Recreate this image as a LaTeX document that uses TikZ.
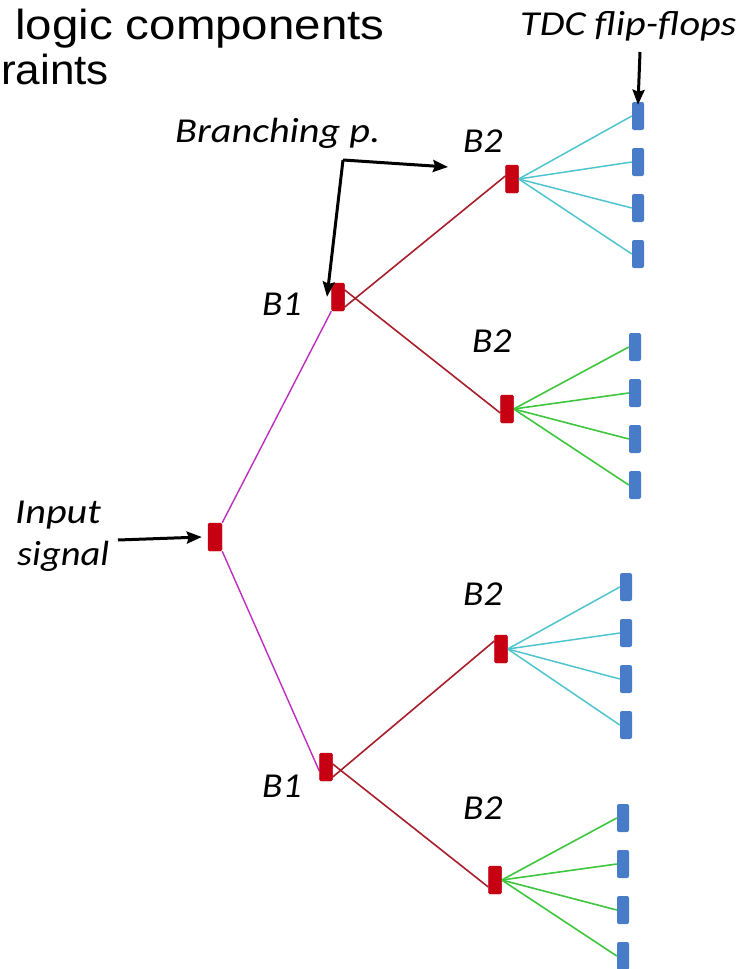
\documentclass[tikz,border=0pt]{standalone}
\usepackage{fontspec}
\setmainfont{Liberation Sans}
\newfontfamily\lblfont{Carlito}
\usetikzlibrary{arrows.meta}
\definecolor{branchred}{RGB}{198,0,18}
\definecolor{wirered}{RGB}{168,30,42}
\definecolor{wiremag}{RGB}{190,45,190}
\definecolor{wirecyan}{RGB}{78,196,206}
\definecolor{wiregreen}{RGB}{62,198,62}
\definecolor{ffblue}{RGB}{72,124,200}
\tikzset{
  bpoint/.style={rectangle, fill=branchred, minimum width=13pt, minimum height=28pt, inner sep=0pt, rounded corners=1.5pt},
  ffbox/.style={rectangle, fill=ffblue, minimum width=12pt, minimum height=28pt, inner sep=0pt, rounded corners=2pt},
  lbl/.style={inner sep=0pt, anchor=base west, xscale=1.15, font=\lblfont\itshape\fontsize{35}{40}\selectfont},
  blbl/.style={lbl, xscale=1.07/1.15},
  headtext/.style={inner sep=0pt, anchor=base west, xscale=1.13, font=\fontsize{42}{48}\selectfont},
  pointer/.style={line width=3pt, -{Stealth[length=15pt,width=12pt,inset=2pt]}},
  magwire/.style={wiremag, line width=1.4pt},
  redwire/.style={wirered, line width=1.6pt},
  cyanwire/.style={wirecyan, line width=1.5pt},
  greenwire/.style={wiregreen, line width=1.6pt}
}
\begin{document}
\begin{tikzpicture}[x=1pt,y=-1pt]
\useasboundingbox (0,0) rectangle (743,969);

% header text
\node[headtext] (h1) at (15,39) {logic components};
\node[headtext, xscale=1.05/1.13] (h2) at (1,84) {raints};

% branching points
\node[bpoint, minimum width=14pt] (inp) at (215,537) {};
\node[bpoint] (b1a) at (338,297) {};
\node[bpoint] (b1b) at (326,767) {};
\node[bpoint] (b2a) at (512,179) {};
\node[bpoint] (b2b) at (507,409) {};
\node[bpoint] (b2c) at (501,649) {};
\node[bpoint] (b2d) at (495,880) {};

% flip-flops
\foreach \i/\y in {1/116,2/162,3/208,4/254} \node[ffbox] (fa\i) at (638,\y) {};
\foreach \i/\y in {1/347,2/393,3/439,4/485} \node[ffbox] (fb\i) at (635,\y) {};
\foreach \i/\y in {1/587,2/633,3/679,4/725} \node[ffbox] (fc\i) at (626,\y) {};
\foreach \i/\y in {1/818,2/864,3/910,4/956} \node[ffbox] (fd\i) at (623,\y) {};

% wires
\draw[magwire] (inp.north east) -- (b1a.south west);
\draw[magwire] (inp.south east) -- ([yshift=-4pt]b1b.west);
\draw[redwire] ([yshift=-10pt]b1a.east) -- ([yshift=3pt]b2a.west);
\draw[redwire] ([yshift=7pt]b1a.east) -- ([yshift=-4pt]b2b.west);
\draw[redwire] ([yshift=-10pt]b1b.east) -- ([yshift=8pt]b2c.west);
\draw[redwire] ([yshift=3pt]b1b.east) -- ([yshift=-7pt]b2d.west);
\foreach \i in {1,...,4} {
  \draw[cyanwire] (b2a.east) -- (fa\i.west);
  \draw[greenwire] (b2b.east) -- (fb\i.west);
  \draw[cyanwire] (b2c.east) -- (fc\i.west);
  \draw[greenwire] (b2d.east) -- (fd\i.west);
}
% redraw branch points over wire ends
\foreach \n in {inp,b1a,b1b,b2a,b2b,b2c,b2d} \fill[branchred, rounded corners=1.5pt] (\n.south west) rectangle (\n.north east);

% labels
\node[lbl] (tdc) at (520,35) {TDC flip-flops};
\node[lbl] (brp) at (175,142) {Branching p.};
\node[blbl] (lb2a) at (463,152) {B2};
\node[blbl] (lb1a) at (262,315) {B1};
\node[blbl] (lb2b) at (472,352) {B2};
\node[blbl] (lb2c) at (463,605) {B2};
\node[blbl] (lb1b) at (262,797) {B1};
\node[blbl] (lb2d) at (463,819) {B2};
\node[lbl] (lin1) at (15,523) {Input};
\node[lbl, xscale=1.1/1.15] (lin2) at (17,565) {signal};

% pointers
\coordinate (tdctop) at (640,52);
\draw[pointer] (tdctop) -- ([yshift=-3pt]fa1.north);
\coordinate (bend) at (343,160);
\draw[pointer] (bend) -- (448,167);
\draw[pointer] (bend) -- ([xshift=-11pt,yshift=-14pt]b1a.north);
\coordinate (instart) at (118,540);
\draw[pointer] (instart) -- ([xshift=-6pt]inp.west);
\end{tikzpicture}
\end{document}
